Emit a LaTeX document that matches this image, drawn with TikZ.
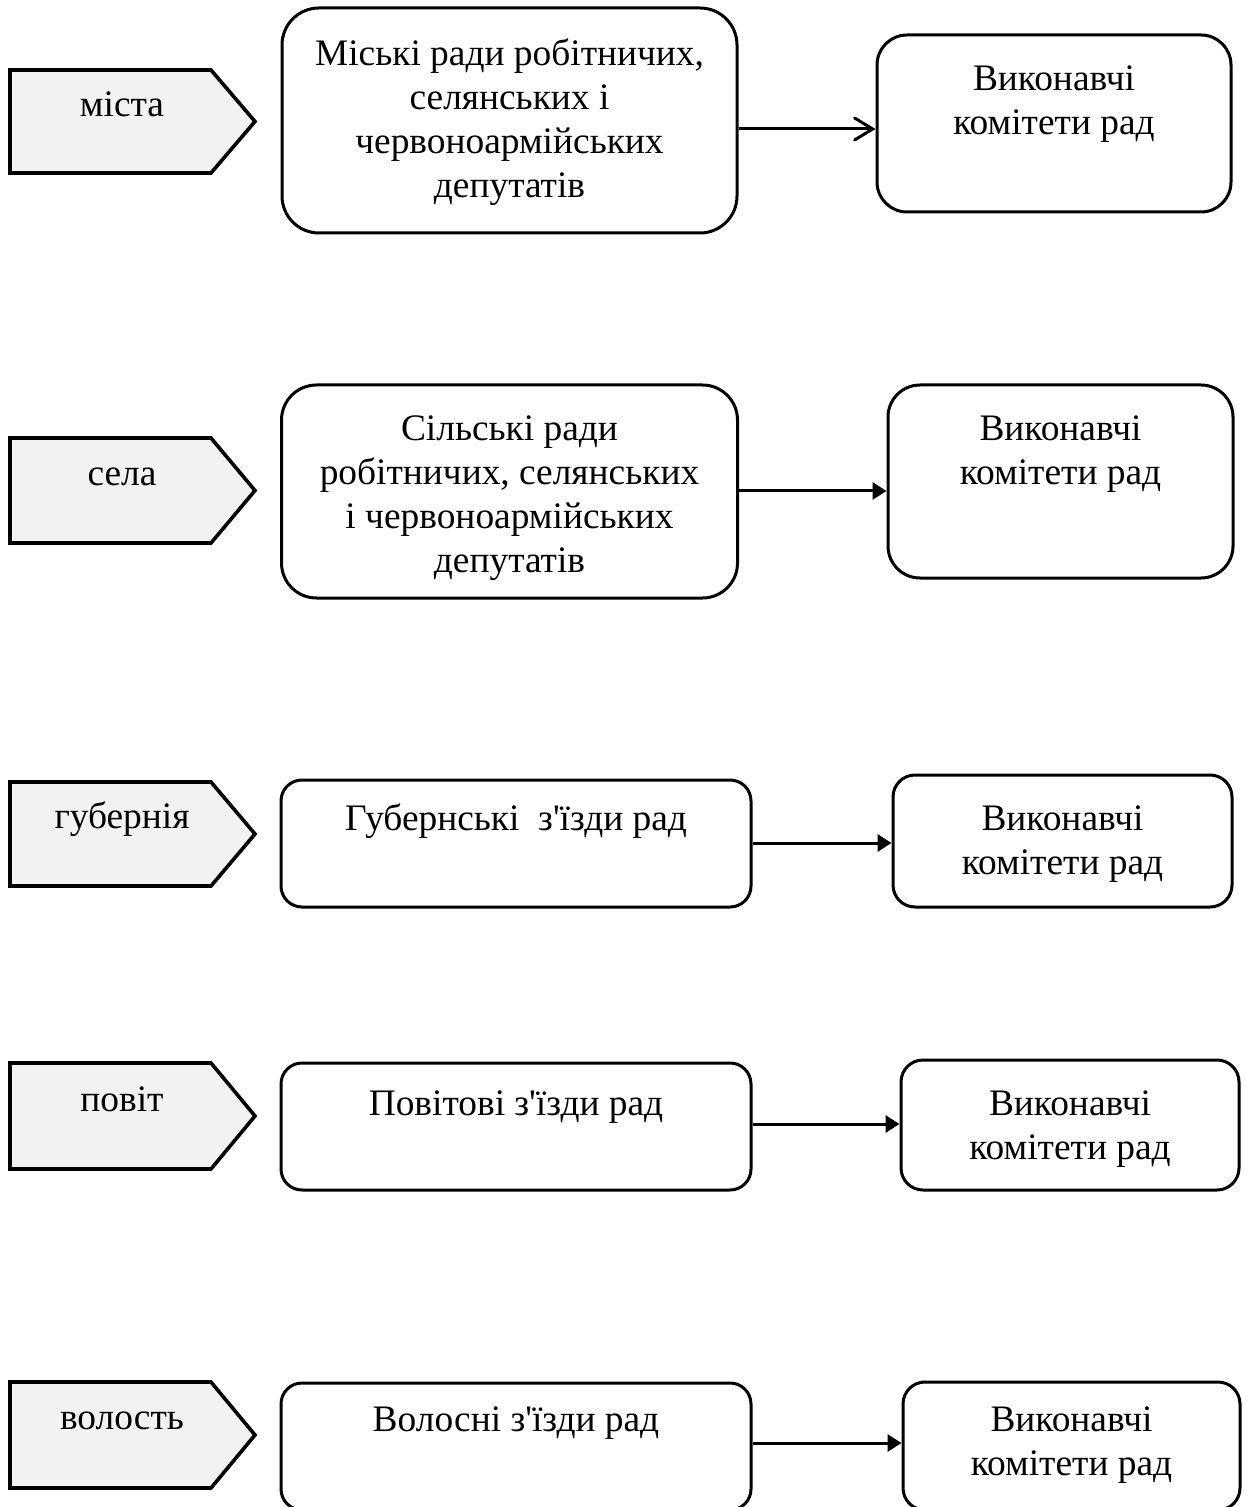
\documentclass[tikz,border=0pt]{standalone}
\usepackage{fontspec}
\setmainfont{Liberation Serif}[Ligatures=TeXOff]
\usetikzlibrary{arrows.meta}
\definecolor{pentfill}{HTML}{F2F2F2}
\tikzset{
  pent/.style={draw=black, fill=pentfill, line width=1.8pt, line join=miter},
  rbox/.style={draw=black, line width=1.5pt, inner sep=0pt, fill=white},
  txt/.style={font=\fontsize{18.7}{22}\selectfont, align=center, inner sep=0pt},
  conn/.style={line width=1.5pt, -{Triangle[length=7pt,width=8.5pt]}},
  connopen/.style={line width=1.5pt, -{Straight Barb[length=9pt,width=11pt,line cap=round]}}
}
\begin{document}
\begin{tikzpicture}[x=0.5pt,y=-0.5pt]
\clip (0,0) rectangle (1249,1507);
\fill[white] (0,0) rectangle (1249,1507);

% ---------- row 1: міста ----------
\draw[pent] (10,70) -- (211,70) -- (255,121.5) -- (211,173) -- (10,173) -- cycle;
\node[txt, anchor=base] (l1) at (122,116.5) {міста};
\node[rbox, minimum width=455*0.5pt, minimum height=225*0.5pt, rounded corners=37*0.5pt] (a1) at (509.5,120.5) {};
\node[txt] (ta1) at (509.5,122) {Міські ради робітничих,\\селянських і\\червоноармійських\\депутатів};
\node[rbox, minimum width=354*0.5pt, minimum height=177*0.5pt, rounded corners=30*0.5pt] (b1) at (1054,123.5) {};
\node[txt] (tb1) at (1054,104) {Виконавчі\\комітети рад};
\coordinate (y1) at (0,129);
\draw[connopen] (a1.east |- y1) -- (b1.west |- y1);

% ---------- row 2: села ----------
\draw[pent] (10,438) -- (211,438) -- (255,490.5) -- (211,543) -- (10,543) -- cycle;
\node[txt, anchor=base] (l2) at (122,485.5) {села};
\node[rbox, minimum width=456*0.5pt, minimum height=213*0.5pt, rounded corners=35*0.5pt] (a2) at (509.5,491.5) {};
\node[txt] (ta2) at (509.5,498) {Сільські ради\\робітничих, селянських\\і червоноармійських\\депутатів};
\node[rbox, minimum width=345*0.5pt, minimum height=193*0.5pt, rounded corners=32*0.5pt] (b2) at (1060.5,481.5) {};
\node[txt] (tb2) at (1060.5,454.5) {Виконавчі\\комітети рад};
\coordinate (y2) at (0,491);
\draw[conn] (a2.east |- y2) -- (b2.west |- y2);

% ---------- row 3: губернія ----------
\draw[pent] (10,782) -- (211,782) -- (255,834) -- (211,886) -- (10,886) -- cycle;
\node[txt, anchor=base] (l3) at (122,828.5) {губернія};
\node[rbox, minimum width=470*0.5pt, minimum height=127*0.5pt, rounded corners=21*0.5pt] (a3) at (516,843.5) {};
\node[txt, anchor=base] (ta3) at (516,830.5) {Губернські\ \ з'їзди рад};
\node[rbox, minimum width=339*0.5pt, minimum height=132*0.5pt, rounded corners=22*0.5pt] (b3) at (1062.5,841) {};
\node[txt] (tb3) at (1062.5,844) {Виконавчі\\комітети рад};
\coordinate (y3) at (0,843);
\draw[conn] (a3.east |- y3) -- (b3.west |- y3);

% ---------- row 4: повіт ----------
\draw[pent] (10,1063) -- (211,1063) -- (255,1116) -- (211,1169) -- (10,1169) -- cycle;
\node[txt, anchor=base] (l4) at (122,1111.5) {повіт};
\node[rbox, minimum width=470*0.5pt, minimum height=127*0.5pt, rounded corners=21*0.5pt] (a4) at (516,1126.5) {};
\node[txt, anchor=base] (ta4) at (516,1115.5) {Повітові з'їзди рад};
\node[rbox, minimum width=338*0.5pt, minimum height=130*0.5pt, rounded corners=22*0.5pt] (b4) at (1070,1125) {};
\node[txt] (tb4) at (1070,1129) {Виконавчі\\комітети рад};
\coordinate (y4) at (0,1124);
\draw[conn] (a4.east |- y4) -- (b4.west |- y4);

% ---------- row 5: волость ----------
\draw[pent] (10,1382) -- (211,1382) -- (255,1435) -- (211,1488) -- (10,1488) -- cycle;
\node[txt, anchor=base] (l5) at (122,1429.5) {волость};
\node[rbox, minimum width=470*0.5pt, minimum height=127*0.5pt, rounded corners=21*0.5pt] (a5) at (516,1446.5) {};
\node[txt, anchor=base] (ta5) at (516,1431.5) {Волосні з'їзди рад};
\node[rbox, minimum width=337*0.5pt, minimum height=128*0.5pt, rounded corners=22*0.5pt] (b5) at (1071.5,1446) {};
\node[txt] (tb5) at (1071.5,1445) {Виконавчі\\комітети рад};
\coordinate (y5) at (0,1443);
\draw[conn] (a5.east |- y5) -- (b5.west |- y5);
\end{tikzpicture}
\end{document}
